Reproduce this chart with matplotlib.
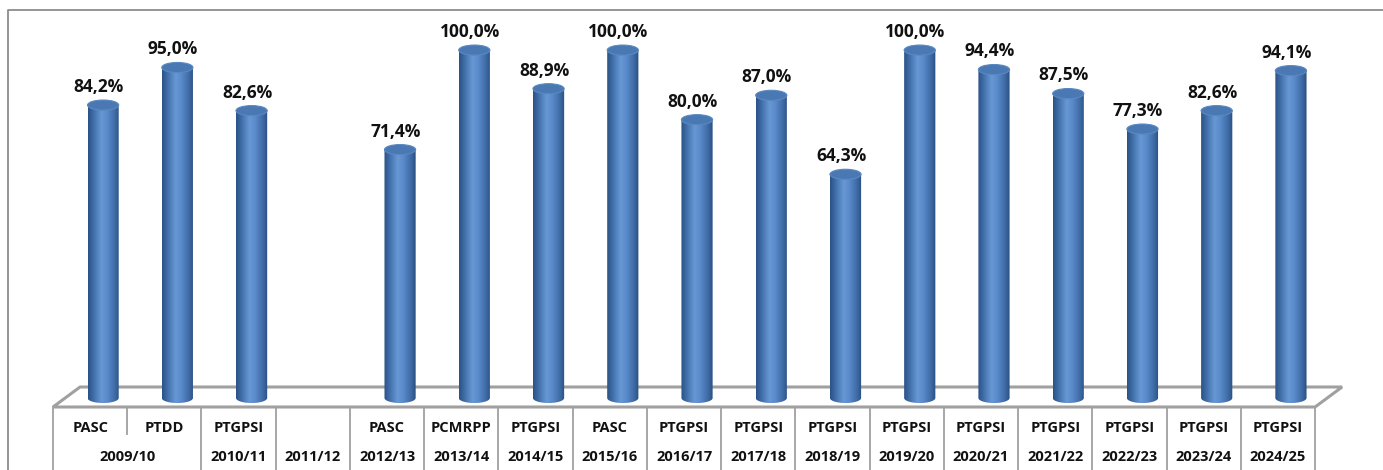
import numpy as np
import matplotlib.pyplot as plt
from matplotlib.patches import PathPatch, Ellipse, Polygon
from matplotlib.path import Path
from matplotlib.colors import LinearSegmentedColormap

plt.rcParams['font.family'] = ['Open Sans', 'DejaVu Sans']

# one slot per course/year cell; None = no course that year
courses = ['PASC', 'PTDD', 'PTGPSI', '', 'PASC', 'PCMRPP', 'PTGPSI', 'PASC', 'PTGPSI',
           'PTGPSI', 'PTGPSI', 'PTGPSI', 'PTGPSI', 'PTGPSI', 'PTGPSI', 'PTGPSI', 'PTGPSI']
values = [84.2, 95.0, 82.6, None, 71.4, 100.0, 88.9, 100.0, 80.0,
          87.0, 64.3, 100.0, 94.4, 87.5, 77.3, 82.6, 94.1]
years = ['2009/10', '2010/11', '2011/12', '2012/13', '2013/14', '2014/15', '2015/16',
         '2016/17', '2017/18', '2018/19', '2019/20', '2020/21', '2021/22', '2022/23',
         '2023/24', '2024/25']
# how many course slots each year spans
year_span = [2] + [1] * 15

fig = plt.figure(figsize=(13.83, 4.70), dpi=100)
ax = fig.add_axes([0, 0, 1, 1])
ax.set_xlim(-1.214, 17.415)
ax.set_ylim(-20.7, 114.4)
ax.axis('off')

# outer frame (left and top visible)
ax.plot([0.0058, 0.0058, 1.0], [0.0, 0.979, 0.979], color='#8c8c8c', lw=1.3,
        transform=ax.transAxes, clip_on=False)

n = len(courses)
grey = '#a0a0a0'
dx, dy = 0.364, 5.75   # floor depth offset
front = -2.59

# floor
floor = Polygon([(-0.5, front), (n - 0.5, front), (n - 0.5 + dx, front + dy),
                 (-0.5 + dx, front + dy)], closed=True, facecolor='white',
                edgecolor=grey, lw=2.2, zorder=1)
ax.add_patch(floor)

# cylinder shading
cmap = LinearSegmentedColormap.from_list('cyl', [
    (0.0, '#2b5284'), (0.15, '#3d6ba6'), (0.42, '#6898d4'), (0.6, '#5b8bcb'),
    (0.85, '#3f6ca6'), (1.0, '#2a4f80')])
grad = np.linspace(0, 1, 64).reshape(1, -1)

w = 0.42
b = 1.45
off = 0.175
for i, v in enumerate(values):
    if v is None:
        continue
    xc = i + off
    x0, x1 = xc - w / 2, xc + w / 2
    t = np.linspace(np.pi, 2 * np.pi, 40)
    verts = [(x0, v), (x0, 0)] + list(zip(xc + w / 2 * np.cos(t), b * np.sin(t))) + \
            [(x1, v), (x0, v)]
    codes = [Path.MOVETO] + [Path.LINETO] * (len(verts) - 2) + [Path.CLOSEPOLY]
    body = PathPatch(Path(verts, codes), facecolor='none', edgecolor='none', zorder=3)
    ax.add_patch(body)
    im = ax.imshow(grad, cmap=cmap, extent=[x0, x1, -b, v], aspect='auto',
                   interpolation='bilinear', zorder=3)
    im.set_clip_path(body)
    ax.add_patch(Ellipse((xc, v), w, 2 * b, facecolor='#4a78b3',
                         edgecolor='#5a88c2', lw=0.8, zorder=4))
    ax.text(xc - 0.06, v + 5.2, f'{v:.1f}%'.replace('.', ','), ha='center',
            va='center', fontsize=12.5, fontweight='bold', color='#111111', zorder=5)

# category table under the floor
row1, row2 = -8.6, -17.0
bottom = -20.7
for k in range(n + 1):
    ax.plot([k - 0.5, k - 0.5], [front, bottom], color=grey, lw=1.3, zorder=2)
for i, c in enumerate(courses):
    ax.text(i, row1, c, ha='center', va='center', fontsize=10.5, fontweight='bold',
            color='#111111')
pos = 0
for y, s in zip(years, year_span):
    ax.text(pos + (s - 1) / 2, row2, y, ha='center', va='center', fontsize=10.5,
            fontweight='bold', color='#111111')
    pos += s

# 2009/10 spans two course cells: hide the lower part of the separator
ax.plot([0.5, 0.5], [-11.3, bottom], color='white', lw=3, zorder=2.5)

fig.savefig('out.png', dpi=100)
